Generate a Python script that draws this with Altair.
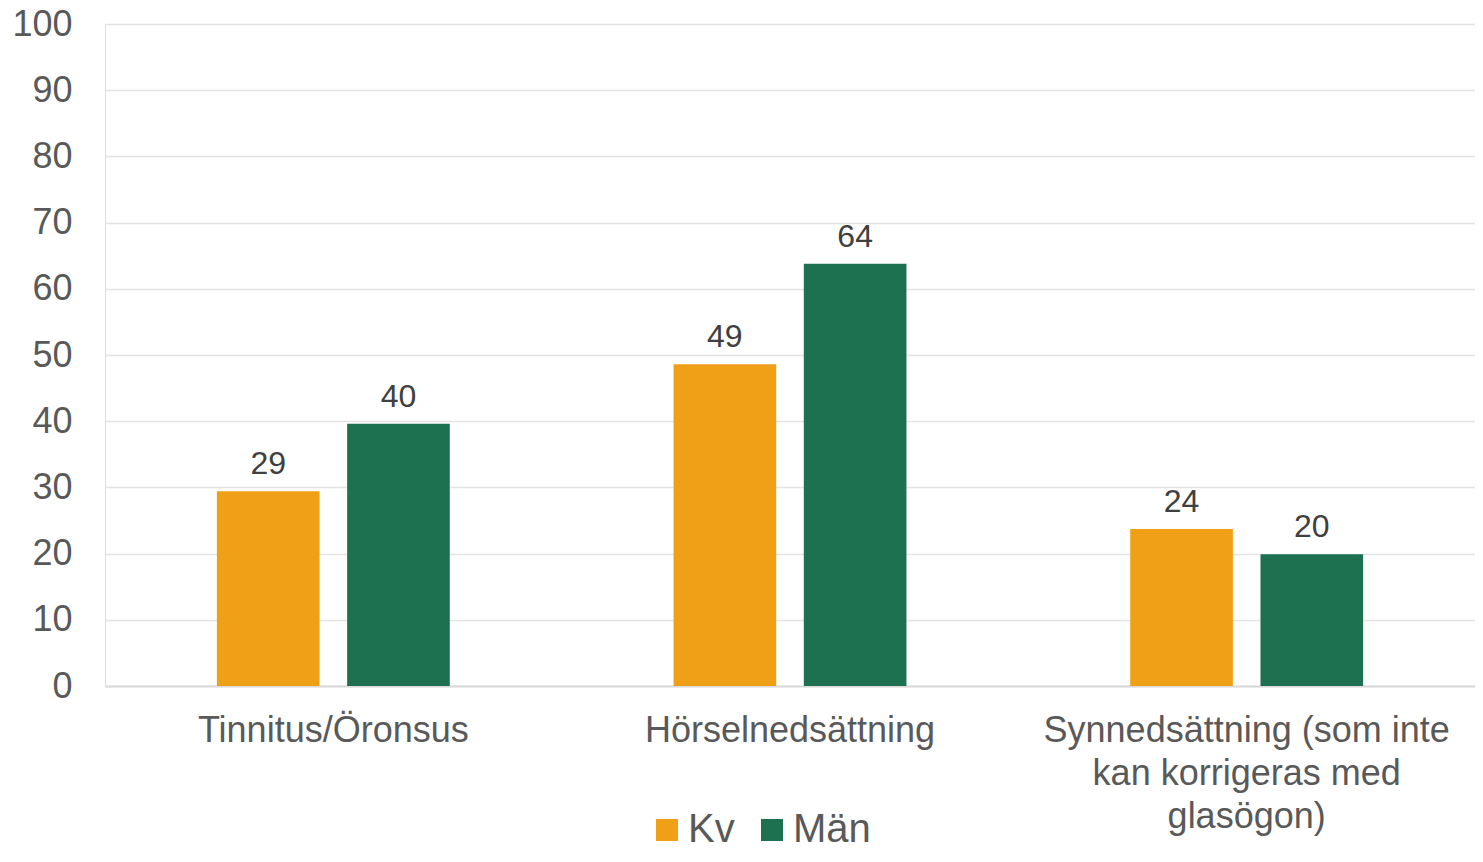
import altair as alt
import pandas as pd

categories = ["Tinnitus/Öronsus", "Hörselnedsättning",
              "Synnedsättning (som inte|kan korrigeras med|glasögon)"]
series = ["Kv", "Män"]
kv_values = [29.4, 48.6, 23.7]
man_values = [39.6, 63.8, 19.9]
colors = ["#F0A016", "#1D7151"]
y_ticks = [0, 10, 20, 30, 40, 50, 60, 70, 80, 90, 100]

rows = []
for c, k, m in zip(categories, kv_values, man_values):
    rows.append({"cat": c, "serie": "Kv", "value": k})
    rows.append({"cat": c, "serie": "Män", "value": m})
df = pd.DataFrame(rows)

FONT = "Liberation Sans"

x_enc = alt.X("cat:N", sort=categories, title=None,
              scale=alt.Scale(paddingInner=0.49, paddingOuter=0.245),
              axis=alt.Axis(labelExpr="split(datum.label, '|')", labelAngle=0,
                            labelFontSize=36, labelColor="#595959", labelFont=FONT,
                            labelLineHeight=43, labelPadding=27, ticks=False,
                            labelLimit=0,
                            domain=True, domainColor="#d9d9d9", domainWidth=2,
                            labelBaseline="top", grid=False))
xoff_enc = alt.XOffset("serie:N", sort=series,
                       scale=alt.Scale(paddingInner=0.212, paddingOuter=0))
y_enc = alt.Y("value:Q", title=None,
              scale=alt.Scale(domain=[0, 100], nice=False),
              axis=alt.Axis(values=y_ticks, labelFontSize=36, labelColor="#595959",
                            labelFont=FONT, labelPadding=33, ticks=False, domain=False,
                            gridColor="#e4e4e4", gridWidth=1.5))

bars = alt.Chart(df).mark_bar().encode(
    x=x_enc, xOffset=xoff_enc, y=y_enc,
    color=alt.Color("serie:N", sort=series,
                    scale=alt.Scale(domain=series, range=colors),
                    legend=alt.Legend(title=None, orient="none", legendX=542, legendY=786,
                                      direction="horizontal", symbolType="square",
                                      symbolSize=484, symbolStrokeWidth=0,
                                      labelFontSize=40, labelColor="#595959",
                                      labelFont=FONT, columnPadding=17, labelOffset=1,
                                      padding=0))
)

labels = alt.Chart(df).mark_text(fontSize=32, color="#404040", font=FONT,
                                 baseline="alphabetic", dy=-17).encode(
    x=alt.X("cat:N", sort=categories),
    xOffset=alt.XOffset("serie:N", sort=series),
    y=alt.Y("value:Q"),
    text=alt.Text("value:Q", format=".0f"),
)

chart = alt.layer(bars, labels).properties(
    width=1370, height=662,
    autosize=alt.AutoSizeParams(type="none"),
    padding={"left": 97, "top": 16, "right": 0, "bottom": 162},
).configure_view(stroke=None).configure(font=FONT)

chart.save("out.html", embed_options={"renderer": "svg", "actions": False})
